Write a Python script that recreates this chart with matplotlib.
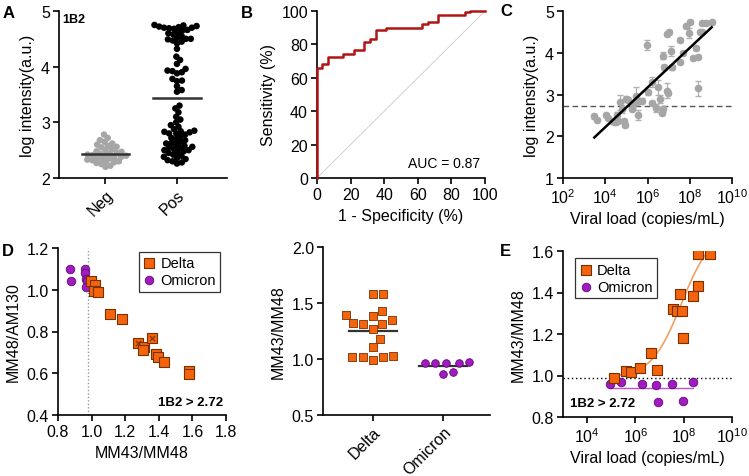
import matplotlib

matplotlib.use("Agg")

import matplotlib.pyplot as plt
import numpy as np
from matplotlib.ticker import FixedLocator, FormatStrFormatter

plt.rcParams["font.family"] = ["Liberation Sans", "DejaVu Sans"]
plt.rcParams["mathtext.fontset"] = "custom"
plt.rcParams["mathtext.rm"] = "Liberation Sans"
plt.rcParams["font.size"] = 10

# ---- panel A: 1B2 log intensity
a_neg = [2.78, 2.72, 2.68, 2.65, 2.62, 2.60, 2.58, 2.56, 2.55, 2.52, 2.50, 2.48,
         2.47, 2.45, 2.44, 2.43, 2.42, 2.41, 2.40, 2.40, 2.38, 2.37, 2.36, 2.35,
         2.34, 2.33, 2.32, 2.30, 2.29, 2.28, 2.27, 2.25, 2.22, 2.20]
a_pos = [4.75, 4.74, 4.73, 4.72, 4.71, 4.70, 4.70, 4.69, 4.68, 4.66, 4.65, 4.62,
         4.60, 4.58, 4.55, 4.52, 4.50, 4.50, 4.49, 4.47, 4.45, 4.42,
         4.32, 4.18, 4.12, 4.05, 3.96, 3.93, 3.92, 3.90, 3.88, 3.78, 3.75, 3.74,
         3.65, 3.58, 3.55,
         3.30, 3.25, 3.18, 3.10, 3.05, 3.00, 2.95, 2.92, 2.88, 2.85, 2.84, 2.83,
         2.82, 2.80, 2.80, 2.78, 2.75, 2.72, 2.70, 2.68, 2.65, 2.63, 2.62, 2.60,
         2.58, 2.56, 2.55, 2.54, 2.52, 2.50, 2.50, 2.48, 2.46, 2.45, 2.42, 2.40,
         2.38, 2.36, 2.34, 2.32, 2.30, 2.28, 2.26]
a_groups = ["Neg", "Pos"]

# ---- panel B: ROC curve (1 - specificity %, sensitivity %)
roc_fpr = [0, 0, 3.2, 3.2, 6.3, 6.3, 15.7, 15.7, 22.2, 22.2, 28.2, 28.2, 31.5,
           31.5, 34.9, 34.9, 41.0, 41.0, 62.7, 62.7, 66.3, 66.3, 72.2, 72.2,
           88.1, 88.1, 91.0, 91.0, 100]
roc_tpr = [0, 65.7, 65.7, 68.5, 68.5, 72.6, 72.6, 74.0, 74.0, 76.4, 76.4, 81.6,
           81.6, 83.2, 83.2, 88.4, 88.4, 89.8, 89.8, 92.2, 92.2, 93.6, 93.6,
           97.6, 97.6, 99.2, 99.2, 100, 100]
auc = 0.87

# ---- panel C: log10 viral load, log intensity, error
c_logvl = [3.48, 3.59, 4.02, 4.12, 4.30, 4.46, 4.57, 4.62, 4.70, 4.78, 4.90, 4.94,
           4.97, 5.06, 5.25, 5.33, 5.46, 5.57, 5.60, 5.76, 5.96, 6.04, 6.23, 6.20,
           6.39, 6.48, 6.59, 6.67, 6.75, 6.72, 6.80, 6.91, 6.96, 6.91, 7.02, 7.11,
           7.14, 7.54, 7.54, 7.70, 7.81, 8.01, 7.97, 8.17, 8.28, 8.38, 8.41, 8.49,
           8.60, 8.60, 8.75, 9.04]
c_int = [2.48, 2.40, 2.51, 2.43, 2.37, 2.33, 2.51, 2.37, 2.81, 2.65, 2.37, 2.27,
         2.89, 2.88, 2.65, 2.77, 2.97, 2.51, 2.85, 2.85, 4.19, 3.05, 3.29, 2.80,
         2.67, 3.17, 2.89, 2.56, 2.65, 3.93, 3.65, 3.09, 3.04, 4.45, 4.50, 4.05,
         3.65, 3.77, 4.31, 3.99, 4.65, 4.73, 4.47, 3.87, 4.11, 3.91, 3.15, 4.50,
         4.50, 4.71, 4.71, 4.74]
c_err = [0.06, 0.04, 0.05, 0.04, 0.04, 0.05, 0.08, 0.05, 0.18, 0.10, 0.05, 0.04,
         0.08, 0.06, 0.05, 0.10, 0.22, 0.12, 0.05, 0.06, 0.12, 0.05, 0.12, 0.05,
         0.10, 0.18, 0.10, 0.06, 0.08, 0.08, 0.06, 0.18, 0.05, 0.05, 0.05, 0.12,
         0.06, 0.05, 0.05, 0.05, 0.05, 0.05, 0.12, 0.04, 0.05, 0.04, 0.18, 0.04,
         0.04, 0.04, 0.04, 0.04]
c_fit_slope = 0.475
c_fit_intercept = 0.317
cutoff = 2.72

# ---- panel D: ratio scatter
d_delta_x = [0.996, 1.020, 1.016, 1.036, 1.109, 1.183, 1.278, 1.314, 1.308,
             1.357, 1.383, 1.393, 1.433, 1.582, 1.582]
d_delta_y = [1.040, 1.024, 0.996, 0.988, 0.884, 0.858, 0.744, 0.724, 0.711,
             0.769, 0.692, 0.676, 0.652, 0.609, 0.596]
d_delta_marked = [False, False, False, False, False, False, True, False, False,
                  True, False, False, False, False, False]
d_omi_x = [0.870, 0.880, 0.960, 0.960, 0.965, 0.970, 0.965]
d_omi_y = [1.098, 1.043, 1.098, 1.082, 1.050, 1.040, 1.012]
d_vline = 0.98

# ---- middle panel: MM43/MM48 by variant
m_groups = ["Delta", "Omicron"]
m_delta = [1.58, 1.58, 1.43, 1.39, 1.38, 1.35, 1.31, 1.32, 1.31, 1.27, 1.18,
           1.11, 1.02, 1.03, 1.02, 1.02, 0.99]
m_omi = [0.96, 0.97, 0.96, 0.96, 0.96, 0.87, 0.88]

# ---- panel E: MM43/MM48 vs viral load
e_delta_logvl = [5.12, 5.60, 5.83, 6.18, 6.66, 6.89, 7.55, 7.72, 7.83, 7.94,
                 7.97, 8.38, 8.59, 8.59, 9.07]
e_delta_y = [0.99, 1.02, 1.015, 1.035, 1.11, 1.025, 1.32, 1.31, 1.395, 1.31,
             1.18, 1.385, 1.43, 1.585, 1.585]
e_omi_logvl = [4.94, 5.42, 6.29, 6.84, 7.50, 8.38, 6.93, 7.99]
e_omi_y = [0.96, 0.97, 0.96, 0.955, 0.96, 0.97, 0.87, 0.875]
e_fit = dict(bottom=0.99, top=1.70, logec50=7.9, hill=0.7)
e_hline = 0.99

ORANGE = "#F4640C"
ORANGE_EDGE = "#7A3000"
PURPLE = "#A21BC2"
PURPLE_EDGE = "#5C0A70"
LABEL_FS = 11.5
TICK_FS = 11.5


def style(ax):
    for s in ["top", "right"]:
        ax.spines[s].set_visible(False)
    for s in ["left", "bottom"]:
        ax.spines[s].set_linewidth(1.2)
    ax.tick_params(width=1.2, length=4, labelsize=TICK_FS, pad=2.5)


def swarm(vals, px_y, px_x, dot):
    vals = np.asarray(vals, float)
    ys = vals * px_y
    xs = np.full(len(vals), np.nan)
    for i in np.argsort(vals):
        near = [j for j in range(len(vals))
                if not np.isnan(xs[j]) and abs(ys[j] - ys[i]) < dot]
        cands = [0.0]
        for j in near:
            dx = np.sqrt(dot ** 2 - (ys[j] - ys[i]) ** 2)
            cands += [xs[j] + dx, xs[j] - dx]
        cands.sort(key=abs)
        for c in cands:
            if all((xs[j] - c) ** 2 + (ys[j] - ys[i]) ** 2 >= dot ** 2 - 1e-6 for j in near):
                xs[i] = c
                break
    return xs / px_x


def log_ticks(ax, decades):
    ax.set_xticks([10.0 ** d for d in decades])
    ax.set_xticklabels([rf"$10^{{{d}}}$" for d in decades])
    ax.xaxis.set_minor_locator(FixedLocator([]))


fig = plt.figure(figsize=(7.49, 4.77), dpi=100)
W, H = 749, 477


def rect(x0, y0, x1, y1):
    return [x0 / W, 1 - y1 / H, (x1 - x0) / W, (y1 - y0) / H]


# ---- A
ax = fig.add_axes(rect(59, 12, 227, 179))
style(ax)
ax.set_xlim(-0.65, 1.7)
ax.set_ylim(2, 5)
px_y, px_x = 167 / 3, 168 / 2.35
for k, (vals, col) in enumerate([(a_neg, "#A6A6A6"), (a_pos, "black")]):
    off = swarm(vals, px_y, px_x, 5.0)
    ax.scatter(k + off, vals, s=22, color=col, edgecolors="none", zorder=3, clip_on=False)
    m = np.mean(vals)
    ax.plot([k - 0.33, k + 0.33], [m, m], color="#333333", lw=1.8, zorder=4)
ax.set_xticks([0, 1])
ax.set_xticklabels(a_groups, rotation=45, ha="right", rotation_mode="anchor")
ax.set_yticks([2, 3, 4, 5])
ax.set_ylabel("log intensity(a.u.)", fontsize=LABEL_FS)
ax.text(0.02, 0.99, "1B2", transform=ax.transAxes, fontsize=9, fontweight="bold",
        va="top", ha="left")

# ---- B
ax = fig.add_axes(rect(317, 12, 485, 179))
style(ax)
ax.plot([0, 100], [0, 100], color="#C8C8C8", lw=0.6)
ax.plot(roc_fpr, roc_tpr, color="#B01515", lw=1.8, clip_on=False, zorder=3)
ax.set_xlim(0, 100)
ax.set_ylim(0, 100)
ax.set_xticks(range(0, 101, 20))
ax.set_yticks(range(0, 101, 20))
ax.set_xlabel("1 - Specificity (%)", fontsize=LABEL_FS)
ax.set_ylabel("Sensitivity (%)", fontsize=LABEL_FS)
ax.text(0.97, 0.05, f"AUC = {auc:.2f}", transform=ax.transAxes, ha="right",
        va="bottom", fontsize=10)

# ---- C
ax = fig.add_axes(rect(563, 12, 732, 179))
style(ax)
ax.set_xscale("log")
vl = 10.0 ** np.array(c_logvl)
ax.errorbar(vl, c_int, yerr=c_err, fmt="o", ms=5.5, color="#A6A6A6", ecolor="#B0B0B0",
            elinewidth=0.9, capsize=2.5, mec="none", zorder=3)
xf = np.array([min(c_logvl), max(c_logvl)])
ax.plot(10.0 ** xf, c_fit_intercept + c_fit_slope * xf, color="black", lw=1.8, zorder=4)
ax.axhline(cutoff, color="#555555", lw=1.0, ls=(0, (4, 2.5)))
ax.set_xlim(1e2, 1e10)
ax.set_ylim(1, 5)
log_ticks(ax, [2, 4, 6, 8, 10])
ax.set_yticks([1, 2, 3, 4, 5])
ax.set_xlabel("Viral load (copies/mL)", fontsize=LABEL_FS)
ax.set_ylabel("log intensity(a.u.)", fontsize=LABEL_FS)

# ---- D
ax = fig.add_axes(rect(58, 249, 226, 416))
style(ax)
ax.axvline(d_vline, color="#999999", lw=1.0, ls=(0, (1, 1.5)))
ax.scatter(d_omi_x, d_omi_y, s=38, marker="o", color=PURPLE, edgecolors=PURPLE_EDGE,
           linewidths=0.6, zorder=3, label="Omicron")
ax.scatter(d_delta_x, d_delta_y, s=50, marker="s", color=ORANGE, edgecolors=ORANGE_EDGE,
           linewidths=0.8, zorder=4, label="Delta")
mk = np.array(d_delta_marked)
ax.scatter(np.array(d_delta_x)[mk], np.array(d_delta_y)[mk], s=14, marker="x",
           color=ORANGE_EDGE, linewidths=0.8, zorder=5)
ax.set_xlim(0.8, 1.8)
ax.set_ylim(0.4, 1.2)
ax.set_xticks(np.arange(0.8, 1.81, 0.2))
ax.set_yticks(np.arange(0.4, 1.21, 0.2))
ax.xaxis.set_major_formatter(FormatStrFormatter("%.1f"))
ax.yaxis.set_major_formatter(FormatStrFormatter("%.1f"))
ax.set_xlabel("MM43/MM48", fontsize=LABEL_FS)
ax.set_ylabel("MM48/AM130", fontsize=LABEL_FS)
h, l = ax.get_legend_handles_labels()
leg = ax.legend(h[::-1], l[::-1], loc="upper right", fontsize=10.5, frameon=True,
                fancybox=False, edgecolor="black", handlelength=0.8,
                handletextpad=0.4, borderpad=0.3, labelspacing=0.2,
                bbox_to_anchor=(1.01, 1.02))
leg.get_frame().set_linewidth(0.9)
ax.text(0.98, 0.04, "1B2 > 2.72", transform=ax.transAxes, ha="right", va="bottom",
        fontsize=9.5, fontweight="bold")

# ---- middle
ax = fig.add_axes(rect(323, 248, 490, 416))
style(ax)
ax.set_xlim(-0.71, 1.67)
ax.set_ylim(0.5, 2.0)
px_y, px_x = 168 / 1.5, 167 / 2.38
for k, (vals, mkr, col, ec) in enumerate([(m_delta, "s", ORANGE, ORANGE_EDGE),
                                           (m_omi, "o", PURPLE, PURPLE_EDGE)]):
    off = swarm(vals, px_y, px_x, 10.5)
    ax.scatter(k + off, vals, s=30, marker=mkr, color=col, edgecolors=ec,
               linewidths=0.6, zorder=3)
    m = np.mean(vals)
    ax.plot([k - 0.34, k + 0.34], [m, m], color="#333333", lw=1.6, zorder=2)
ax.set_xticks([0, 1])
ax.set_xticklabels(m_groups, rotation=45, ha="right", rotation_mode="anchor")
ax.set_yticks([0.5, 1.0, 1.5, 2.0])
ax.yaxis.set_major_formatter(FormatStrFormatter("%.1f"))
ax.set_ylabel("MM43/MM48", fontsize=LABEL_FS)

# ---- E
ax = fig.add_axes(rect(563, 252, 732, 418))
style(ax)
ax.set_xscale("log")
ax.axhline(e_hline, color="black", lw=1.0, ls=(0, (1, 2)))
ox = [min(e_omi_logvl), max(e_omi_logvl)]
ax.plot(10.0 ** np.array(ox), [np.mean(e_omi_y)] * 2, color="#C050D0", lw=1.0, zorder=2)
xs = np.linspace(min(e_delta_logvl), max(e_delta_logvl), 200)
ys = e_fit["bottom"] + (e_fit["top"] - e_fit["bottom"]) / (
    1 + 10 ** ((e_fit["logec50"] - xs) * e_fit["hill"]))
ax.plot(10.0 ** xs, ys, color="#F0A060", lw=1.2, zorder=2)
ax.scatter(10.0 ** np.array(e_delta_logvl), e_delta_y, s=55, marker="s", color=ORANGE,
           edgecolors=ORANGE_EDGE, linewidths=0.8, zorder=4, label="Delta")
ax.scatter(10.0 ** np.array(e_omi_logvl), e_omi_y, s=38, marker="o", color=PURPLE,
           edgecolors=PURPLE_EDGE, linewidths=0.6, zorder=3, label="Omicron")
ax.set_xlim(1e3, 1e10)
ax.set_ylim(0.8, 1.6)
log_ticks(ax, [4, 6, 8, 10])
ax.set_yticks(np.arange(0.8, 1.61, 0.2))
ax.yaxis.set_major_formatter(FormatStrFormatter("%.1f"))
ax.set_xlabel("Viral load (copies/mL)", fontsize=LABEL_FS)
ax.set_ylabel("MM43/MM48", fontsize=LABEL_FS)
leg = ax.legend(loc="upper left", fontsize=10.5, frameon=True, fancybox=False,
                edgecolor="black", handlelength=0.8, handletextpad=0.4,
                borderpad=0.3, labelspacing=0.2, bbox_to_anchor=(0.03, 1.0))
leg.get_frame().set_linewidth(0.9)
ax.text(0.04, 0.05, "1B2 > 2.72", transform=ax.transAxes, ha="left", va="bottom",
        fontsize=9.5, fontweight="bold")

# panel letters
for letter, x, y in [("A", 3, 18), ("B", 241, 18), ("C", 500, 16), ("D", 2, 256),
                     ("E", 500, 256)]:
    fig.text(x / W, 1 - y / H, letter, fontsize=12, fontweight="bold", ha="left",
             va="baseline")

fig.savefig("out.png", dpi=100)
